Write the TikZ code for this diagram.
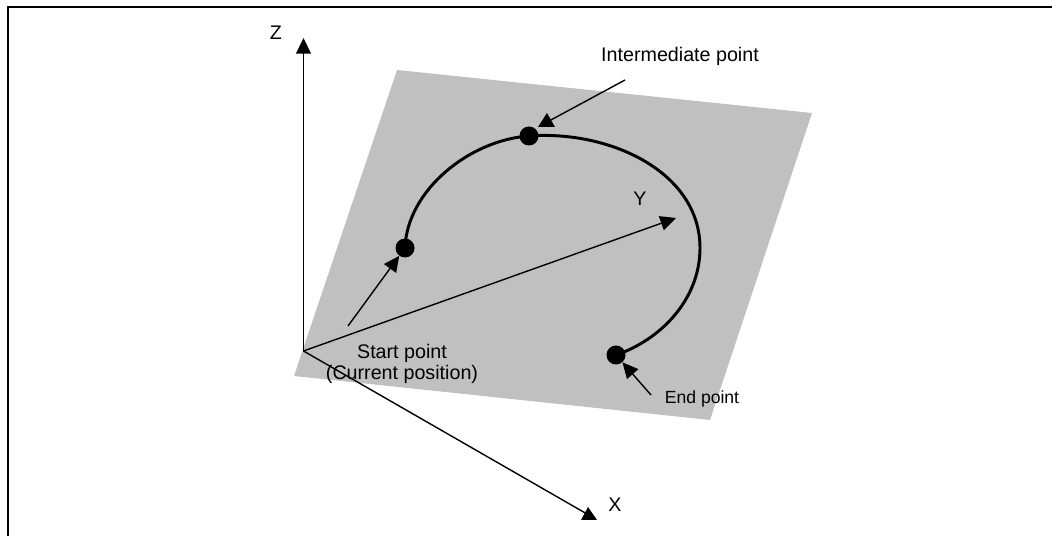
\documentclass[tikz,border=0pt]{standalone}
\usepackage{fontspec}
\setmainfont{Liberation Sans}
\usepackage{xcolor}
\usepackage{tikz}
\usetikzlibrary{arrows.meta}
\definecolor{planegray}{RGB}{192,192,192}
\tikzset{
    axisline/.style={line width=1pt, -{Triangle[length=0.39cm, width=0.37cm]}},
    pointer/.style={line width=1pt, -{Triangle[length=0.39cm, width=0.37cm]}},
    plainline/.style={line width=1pt},
    dot/.style={circle, fill=black, inner sep=0pt, minimum size=0.475cm},
    lbl/.style={font=\fontsize{14pt}{15pt}\selectfont, inner sep=0pt, align=center},
    lblsmall/.style={font=\fontsize{12.5pt}{15pt}\selectfont, inner sep=0pt}
}

\begin{document}
\begin{tikzpicture}[x=0.025cm, y=-0.025cm, >=stealth]
    \useasboundingbox (0,0) rectangle (1052,536);
    % frame
    \draw[line width=1.6pt] (8,536) -- (8,6.7) -- (1052,6.7);
    % plane
    \fill[planegray] (397,70) -- (812,113) -- (710,420) -- (294,376) -- cycle;
    % points on the arc
    \node[dot] (startdot) at (405,248) {};
    \node[dot] (middot) at (529,136) {};
    \node[dot] (enddot) at (616,355) {};
    \draw[line width=2.1pt] (startdot.center) .. controls (407,190) and (470,140) .. (middot.center)
        .. controls (610,130) and (700,172) .. (700,248)
        .. controls (700,300) and (660,340) .. (enddot.center);
    % axes
    \coordinate (origin) at (303.5,351);
    \coordinate (ztip) at (303.5,38);
    \coordinate (ytip) at (676,218);
    \coordinate (xend) at (587,514);
    \draw[axisline] (origin) -- (ztip);
    \draw[axisline] (origin) -- (ytip);
    \draw[plainline] (origin) -- (xend);
    \fill (588,507) -- (597,520) -- (581,520) -- cycle;
    % pointers
    \coordinate (starttail) at (348,326);
    \coordinate (endtail) at (651,395);
    \coordinate (midtail) at (625,80);
    \coordinate (midend) at (549,121);
    \draw[pointer] (starttail) -- (startdot);
    \draw[pointer] (endtail) -- (enddot);
    \draw[plainline] (midtail) -- (midend);
    \fill (547,113) -- (555,127) -- (538,127) -- cycle;
    % labels
    \node[lbl] (zlabel) at (276,33) {Z};
    \node[lbl] (ylabel) at (640,199) {Y};
    \node[lbl] (xlabel) at (615,505) {X};
    \node[lbl] (midlabel) at (680,56) {Intermediate point};
    \node[lbl] (startlabel) at (402,364) {Start point\\(Current position)};
    \node[lblsmall] (endlabel) at (702,399) {End point};
\end{tikzpicture}
\end{document}
